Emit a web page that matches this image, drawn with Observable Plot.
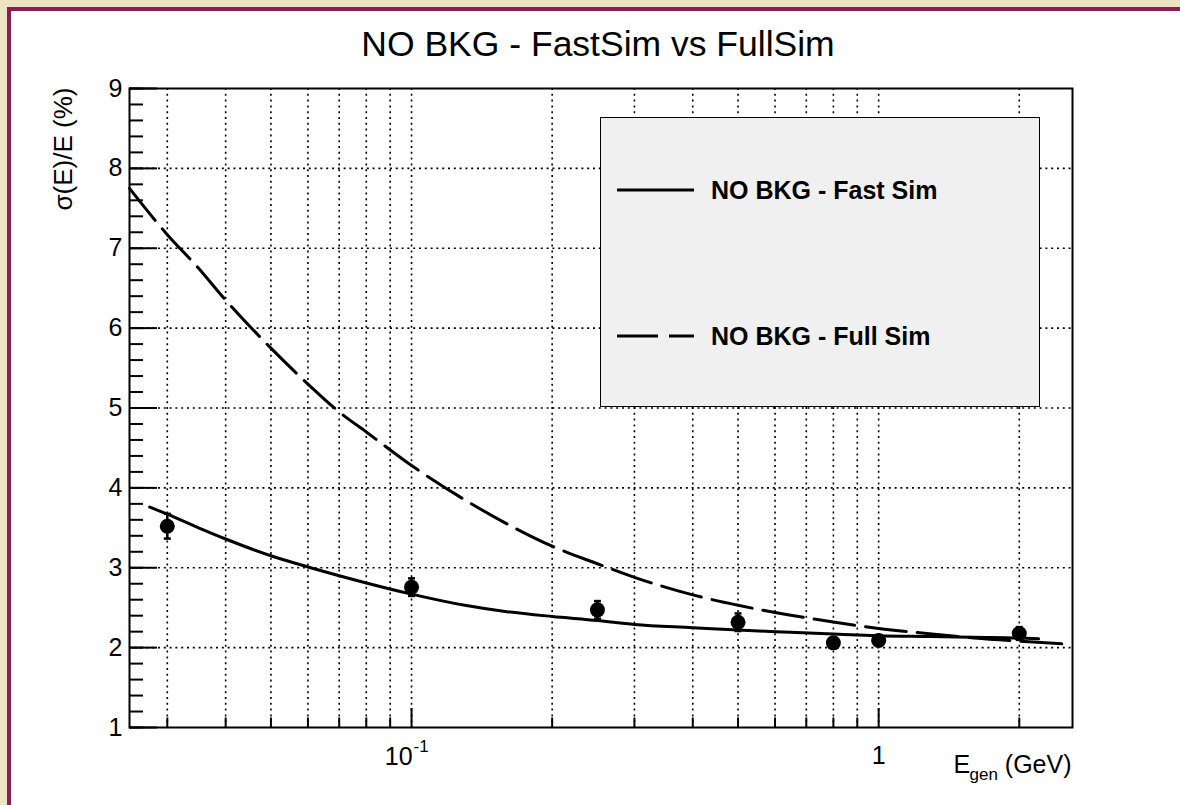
<!DOCTYPE html>
<html>
<head>
<meta charset="utf-8">
<script src="https://cdn.jsdelivr.net/npm/d3@7"></script>
<script src="https://cdn.jsdelivr.net/npm/@observablehq/plot@0.6"></script>
<style>
  html, body { margin: 0; padding: 0; }
  body { width: 1180px; height: 805px; overflow: hidden; background: #eee4c3; position: relative;
         font-family: "Liberation Sans", Arial, Helvetica, sans-serif; }
  #panel { position: absolute; left: 7px; top: 7px; width: 1200px; height: 830px; background: #ffffff;
           border: 4px solid #8a1d52; box-sizing: border-box; }
  #chart { position: absolute; left: 11px; top: 11px; }
  #legend { position: absolute; left: 600px; top: 117px; width: 440px; height: 290px; background: #f0f0f0;
            border: 1.5px solid #000; box-sizing: border-box; }
  .entry { position: absolute; left: 16px; height: 30px; display: flex; align-items: center; }
  .entry span { margin-left: 17px; font-weight: bold; font-size: 25px; color: #000; white-space: nowrap; }
</style>
</head>
<body>
<div id="panel"></div>
<div id="chart"></div>
<div id="legend">
  <div class="entry" style="top:57px"><svg width="77" height="10"><line x1="0" x2="77" y1="5" y2="5" stroke="#000" stroke-width="3"/></svg><span>NO BKG - Fast Sim</span></div>
  <div class="entry" style="top:203px"><svg width="77" height="10"><line x1="0" x2="77" y1="5" y2="5" stroke="#000" stroke-width="3" stroke-dasharray="41,11"/></svg><span>NO BKG - Full Sim</span></div>
</div>
<script>
// ---- data ----
const fastE     = [0.0275, 0.03, 0.035, 0.04, 0.05, 0.06, 0.07, 0.08, 0.1, 0.13, 0.16, 0.2, 0.25, 0.3, 0.4, 0.5, 0.6, 0.8, 1.0, 1.3, 1.6, 2.0, 2.2];
const fastSigma = [3.76, 3.67, 3.50, 3.36, 3.15, 3.01, 2.90, 2.81, 2.67, 2.53, 2.45, 2.39, 2.34, 2.29, 2.25, 2.22, 2.20, 2.17, 2.15, 2.14, 2.13, 2.12, 2.11];

const fullE     = [0.0249, 0.03, 0.035, 0.04, 0.05, 0.06, 0.07, 0.08, 0.1, 0.13, 0.16, 0.2, 0.25, 0.3, 0.4, 0.5, 0.6, 0.8, 1.0, 1.3, 1.6, 2.0, 2.6];
const fullSigma = [7.75, 7.17, 6.75, 6.35, 5.75, 5.30, 4.95, 4.70, 4.28, 3.85, 3.55, 3.27, 3.05, 2.88, 2.66, 2.53, 2.44, 2.32, 2.24, 2.17, 2.12, 2.08, 2.04];

const pointE     = [0.03, 0.1, 0.25, 0.5, 0.8, 1.0, 2.0];
const pointSigma = [3.52, 2.757, 2.473, 2.318, 2.06, 2.089, 2.177];
const pointErr   = [0.155, 0.11, 0.11, 0.11, 0.05, 0.05, 0.08];

const xGridValues  = [0.03, 0.04, 0.05, 0.06, 0.07, 0.08, 0.09, 0.1, 0.2, 0.3, 0.4, 0.5, 0.6, 0.7, 0.8, 0.9, 1, 2];
const xMajorTicks  = [0.1, 1];
const yTickLabels  = [1, 2, 3, 4, 5, 6, 7, 8, 9];
const yGridValues  = [2, 3, 4, 5, 6, 7, 8];

const chartTitle = "NO BKG - FastSim vs FullSim";
const yTitle = "σ(E)/E (%)";

// ---- build ----
const fast = fastE.map((e, i) => ({E: e, s: fastSigma[i]}));
const full = fullE.map((e, i) => ({E: e, s: fullSigma[i]}));
const pts = pointE.map((e, i) => ({E: e, s: pointSigma[i], lo: pointSigma[i] - pointErr[i], hi: pointSigma[i] + pointErr[i]}));
const yMinor = d3.range(1, 9.001, 0.2).map(v => +v.toFixed(2));
const xMinor = xGridValues.filter(v => !xMajorTicks.includes(v));

const W = 1169, H = 794, mL = 118, mR = 108, mT = 77, mB = 78;
const FW = W - mL - mR, FH = H - mT - mB;

const capSymbol = {
  draw(ctx, size) {
    const hw = Math.sqrt(size / Math.PI);
    ctx.moveTo(-hw, 0); ctx.lineTo(hw, 0);
  }
};

const font = {fill: "black"};
const dotted = {stroke: "black", strokeWidth: 1.6, strokeDasharray: "2,3.8"};

const chart = Plot.plot({
  width: W, height: H,
  marginLeft: mL, marginRight: mR, marginTop: mT, marginBottom: mB,
  style: {background: "transparent", fontFamily: '"Liberation Sans", Arial, Helvetica, sans-serif', overflow: "visible"},
  x: {type: "log", domain: [0.0249, 2.6], axis: null},
  y: {domain: [1, 9], axis: null},
  marks: [
    // grid
    Plot.ruleX(xGridValues, dotted),
    Plot.ruleY(yGridValues, dotted),
    // ticks
    Plot.ruleY(yMinor, {stroke: "black", strokeWidth: 2, insetRight: FW - 14}),
    Plot.ruleY(yTickLabels, {stroke: "black", strokeWidth: 2, insetRight: FW - 28}),
    Plot.ruleX(xMinor, {stroke: "black", strokeWidth: 2, insetTop: FH - 9.5}),
    Plot.ruleX(xMajorTicks, {stroke: "black", strokeWidth: 2, insetTop: FH - 19}),
    // curves
    Plot.line(full, {x: "E", y: "s", curve: "monotone-x", stroke: "black", strokeWidth: 3, strokeDasharray: "41,11"}),
    Plot.line(fast, {x: "E", y: "s", curve: "monotone-x", stroke: "black", strokeWidth: 3}),
    // error bars + markers
    Plot.ruleX(pts, {x: "E", y1: "lo", y2: "hi", stroke: "black", strokeWidth: 2.5}),
    Plot.dot(pts, {x: "E", y: "lo", symbol: capSymbol, r: 3.5, fill: "none", stroke: "black", strokeWidth: 2.5}),
    Plot.dot(pts, {x: "E", y: "hi", symbol: capSymbol, r: 3.5, fill: "none", stroke: "black", strokeWidth: 2.5}),
    Plot.dot(pts, {x: "E", y: "s", r: 7.5, fill: "black", stroke: "none"}),
    // frame
    Plot.frame({stroke: "black", strokeWidth: 2}),
    // y tick labels
    Plot.text(yTickLabels, {y: d => d, text: d => `${d}`, frameAnchor: "left", textAnchor: "end", dx: -7, fontSize: 25, ...font}),
    // x tick labels
    Plot.text([1], {x: d => d, text: d => "1", frameAnchor: "bottom", dy: 36, fontSize: 25, ...font}),
    Plot.text([0.1], {x: d => d, text: d => "10", frameAnchor: "bottom", textAnchor: "end", dx: 1, dy: 37, fontSize: 25, ...font}),
    Plot.text([0.1], {x: d => d, text: d => "-1", frameAnchor: "bottom", textAnchor: "start", dx: 2, dy: 24, fontSize: 17, ...font}),
    // x title
    Plot.text(["(GeV)"], {frameAnchor: "bottom-right", textAnchor: "end", dx: -1, dy: 45, fontSize: 25, ...font}),
    Plot.text(["E"], {frameAnchor: "bottom-right", textAnchor: "start", dx: -119, dy: 45, fontSize: 25, ...font}),
    Plot.text(["gen"], {frameAnchor: "bottom-right", textAnchor: "start", dx: -103, dy: 52, fontSize: 17, ...font}),
    // y title
    Plot.text([yTitle], {frameAnchor: "top-left", rotate: -90, textAnchor: "end", dx: -76, dy: -1, fontSize: 26, ...font}),
    // title
    Plot.text([chartTitle], {frameAnchor: "top", dx: -3, dy: -58, fontSize: 35.5, ...font})
  ]
});
document.getElementById("chart").appendChild(chart);
</script>
</body>
</html>
